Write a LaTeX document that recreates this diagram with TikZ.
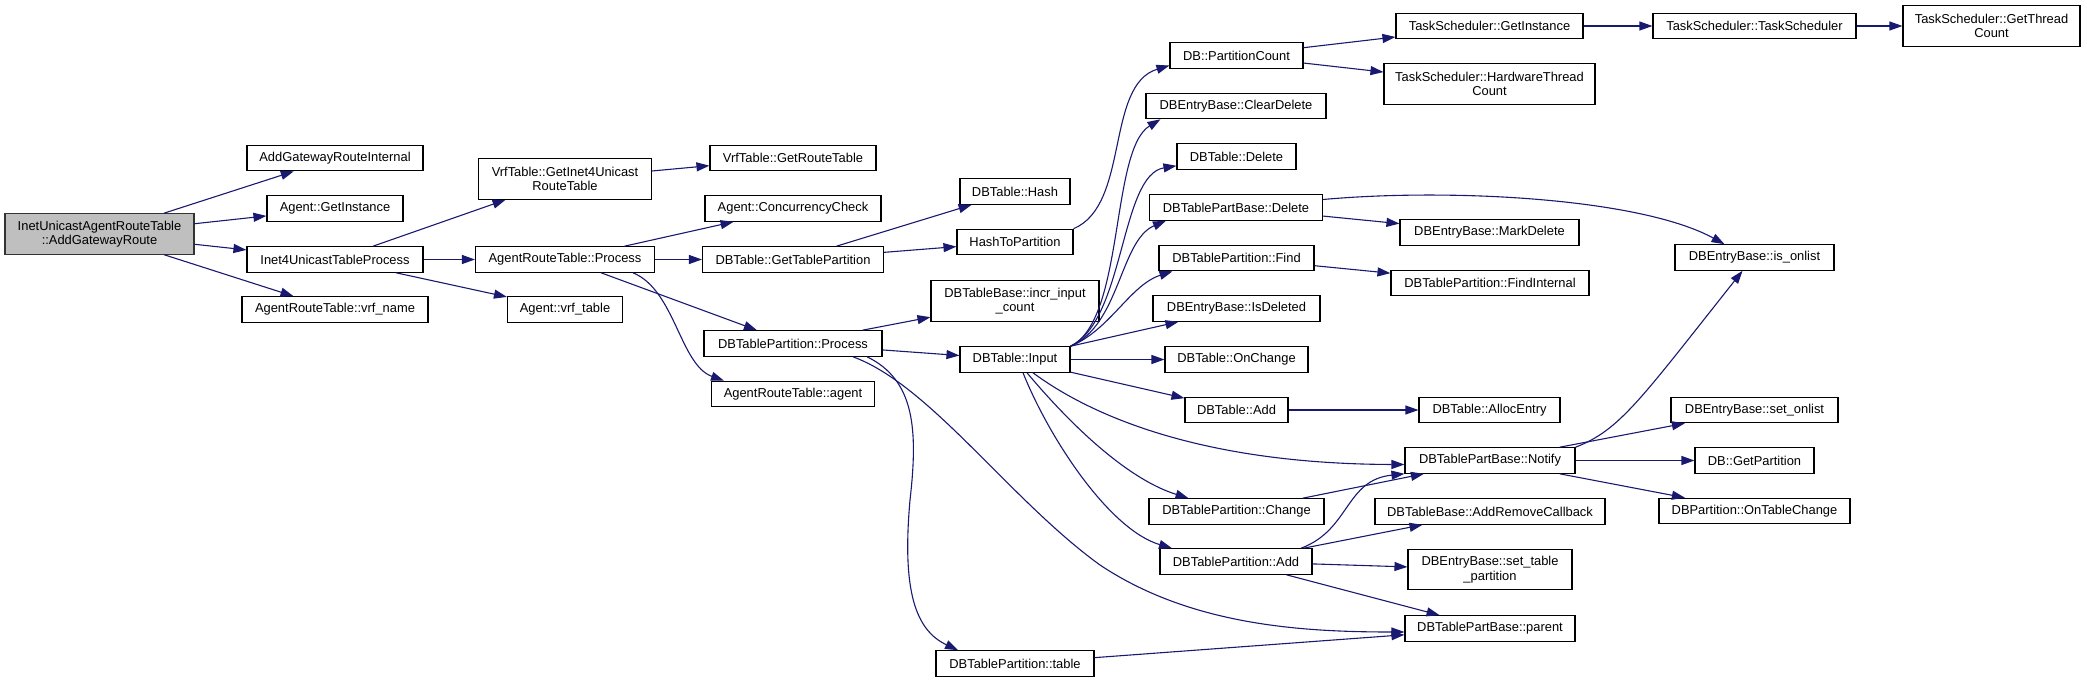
\documentclass[tikz,border=0pt]{standalone}
\usepackage{fontspec}
\setmainfont{Liberation Sans}
\usepackage{xcolor}
\usetikzlibrary{arrows.meta}

\definecolor{edgeblue}{HTML}{191970}
\definecolor{rootgray}{HTML}{BFBFBF}

\begin{document}
\begin{tikzpicture}[x=1pt, y=-1pt,
        fn/.style={draw, line width=1.1pt, minimum height=25.5pt, inner sep=0pt,
        align=center, font=\fontsize{12.9}{14.5}\selectfont},
        tall/.style={fn, minimum height=40.5pt},
        root/.style={tall, fill=rootgray, draw=black!80},
        call/.style={draw=edgeblue, line width=1.1pt, -{Triangle[length=13pt, width=9pt]}}
      ]
      \useasboundingbox (0,0) rectangle (2087,682);

      \node[root, minimum width=189pt] (main) at (99.5, 234) {InetUnicastAgentRouteTable\\::AddGatewayRoute};
      \node[fn, minimum width=176pt] (addgwint)  at (335, 158)   {AddGatewayRouteInternal};
      \node[fn, minimum width=136pt] (agentinst) at (335, 208.5) {Agent::GetInstance};
      \node[fn, minimum width=176pt] (inet4proc) at (335, 259.5) {Inet4UnicastTableProcess};
      \node[fn, minimum width=186pt] (vrfname)   at (335, 309.5) {AgentRouteTable::vrf\_name};

      \node[tall, minimum width=173pt] (getinet4) at (565, 179) {VrfTable::GetInet4Unicast\\RouteTable};
      \node[fn, minimum width=179pt] (arprocess)  at (565, 259.5) {AgentRouteTable::Process};
      \node[fn, minimum width=115pt] (vrftable)   at (565, 309.5) {Agent::vrf\_table};

      \node[fn, minimum width=166pt] (getroutetable) at (793, 158)   {VrfTable::GetRouteTable};
      \node[fn, minimum width=176pt] (concheck)      at (793, 208.5) {Agent::ConcurrencyCheck};
      \node[fn, minimum width=181pt] (gettablepart)  at (793, 259.5) {DBTable::GetTablePartition};
      \node[fn, minimum width=178pt] (dbtpprocess)   at (793, 343.5) {DBTablePartition::Process};
      \node[fn, minimum width=163pt] (aragent)       at (793, 394)   {AgentRouteTable::agent};

      \node[fn, minimum width=110pt] (dbhash)     at (1015, 191.5) {DBTable::Hash};
      \node[fn, minimum width=116pt] (hashtopart) at (1015, 242)   {HashToPartition};
      \node[tall, minimum width=168pt] (incrinput) at (1015, 301)  {DBTableBase::incr\_input\\\_count};
      \node[fn, minimum width=110pt] (dbinput)    at (1015, 359.5) {DBTable::Input};
      \node[fn, minimum width=158pt] (dbtptable)  at (1015, 663.5) {DBTablePartition::table};

      \node[fn, minimum width=133pt] (partcount)  at (1236.5, 55.5)  {DB::PartitionCount};
      \node[fn, minimum width=180pt] (cleardel)   at (1236, 106)     {DBEntryBase::ClearDelete};
      \node[fn, minimum width=119pt] (dbdelete)   at (1236.5, 156.5) {DBTable::Delete};
      \node[fn, minimum width=173pt] (tpbdelete)  at (1236, 207.5)   {DBTablePartBase::Delete};
      \node[fn, minimum width=155pt] (dbtpfind)   at (1236.5, 258)   {DBTablePartition::Find};
      \node[fn, minimum width=167pt] (isdeleted)  at (1236.5, 308.5) {DBEntryBase::IsDeleted};
      \node[fn, minimum width=143pt] (onchange)   at (1236.5, 359.5) {DBTable::OnChange};
      \node[fn, minimum width=103pt] (dbadd)      at (1236.5, 410)   {DBTable::Add};
      \node[fn, minimum width=175pt] (dbtpchange) at (1236.5, 511.5) {DBTablePartition::Change};
      \node[fn, minimum width=152pt] (dbtpadd)    at (1236, 561.5)   {DBTablePartition::Add};

      \node[fn, minimum width=187pt] (tsgetinst)  at (1489.5, 26)    {TaskScheduler::GetInstance};
      \node[tall, minimum width=211pt] (tshwcount) at (1489.5, 84)   {TaskScheduler::HardwareThread\\Count};
      \node[fn, minimum width=179pt] (markdel)    at (1489.5, 232.5) {DBEntryBase::MarkDelete};
      \node[fn, minimum width=198pt] (findint)    at (1490, 283)     {DBTablePartition::FindInternal};
      \node[fn, minimum width=141pt] (allocentry) at (1489.5, 410)   {DBTable::AllocEntry};
      \node[fn, minimum width=170pt] (notify)     at (1490, 460.5)   {DBTablePartBase::Notify};
      \node[fn, minimum width=230pt] (addremcb)   at (1490, 511.5)   {DBTableBase::AddRemoveCallback};
      \node[tall, minimum width=164pt] (settablepart) at (1490, 569.5) {DBEntryBase::set\_table\\\_partition};
      \node[fn, minimum width=170pt] (tpbparent)  at (1490, 628.5)   {DBTablePartBase::parent};

      \node[fn, minimum width=203pt] (tssched)       at (1754.5, 26)    {TaskScheduler::TaskScheduler};
      \node[fn, minimum width=159pt] (isonlist)      at (1754.5, 257.5) {DBEntryBase::is\_onlist};
      \node[fn, minimum width=167pt] (setonlist)     at (1754.5, 410)   {DBEntryBase::set\_onlist};
      \node[fn, minimum width=119pt] (getpartition)  at (1754.5, 460.5) {DB::GetPartition};
      \node[fn, minimum width=191pt] (ontablechange) at (1754.5, 511)   {DBPartition::OnTableChange};
      \node[tall, minimum width=177pt] (tsgetthread) at (1991.5, 26)    {TaskScheduler::GetThread\\Count};

      \draw[call] (main) -- (addgwint);
      \draw[call] (main) -- (agentinst);
      \draw[call] (main) -- (inet4proc);
      \draw[call] (main) -- (vrfname);
      \draw[call] (inet4proc) -- (getinet4);
      \draw[call] (inet4proc) -- (arprocess);
      \draw[call] (inet4proc) -- (vrftable);
      \draw[call] (getinet4) -- (getroutetable);
      \draw[call] (arprocess) -- (concheck);
      \draw[call] (arprocess) -- (gettablepart);
      \draw[call] (arprocess) -- (dbtpprocess);
      \draw[call] ([xshift=68pt]arprocess.south) .. controls (675,290) and (680,365) .. ([xshift=-69pt]aragent.north);
      \draw[call] (gettablepart) -- (dbhash);
      \draw[call] (gettablepart) -- (hashtopart);
      \draw[call] (hashtopart.north east) .. controls (1130,205) and (1105,85) .. ([yshift=-10pt]partcount.west);
      \draw[call] (dbtpprocess) -- (incrinput);
      \draw[call] (dbtpprocess) -- (dbinput);
      % long calls of DBTablePartition::Process, bent down past the Input column
      \draw[call] ([xshift=74pt]dbtpprocess.south) .. controls (915,380) and (918,430) .. (910,500)
        .. controls (902,590) and (915,630) .. ([xshift=-57pt]dbtptable.north);
      \draw[call] ([xshift=60pt]dbtpprocess.south) .. controls (930,385) and (1010,500) .. (1100,565)
        .. controls (1190,625) and (1300,632) .. ([yshift=-3.5pt]tpbparent.west);

      % fan out of DBTable::Input
      \draw[call] (dbinput.north east) .. controls (1125,320) and (1110,150) .. ([xshift=15pt]cleardel.south west);
      \draw[call] (dbinput.north east) .. controls (1125,320) and (1120,175) .. ([yshift=4pt]dbdelete.south west);
      \draw[call] (dbinput.north east) .. controls (1120,325) and (1120,240) .. ([xshift=17pt]tpbdelete.south west);
      \draw[call] (dbinput.north east) .. controls (1110,330) and (1130,285) .. ([xshift=14pt]dbtpfind.south west);
      \draw[call] (dbinput.north east) -- ([xshift=26pt]isdeleted.south west);
      \draw[call] (dbinput) -- (onchange);
      \draw[call] (dbinput) -- (dbadd);
      \draw[call] ([xshift=18pt]dbinput.south) .. controls (1090,415) and (1200,464) .. ([yshift=-4pt]notify.west);
      \draw[call] ([xshift=12pt]dbinput.south) .. controls (1075,430) and (1130,480) .. ([xshift=-48pt]dbtpchange.north);
      \draw[call] ([xshift=8pt]dbinput.south) .. controls (1050,440) and (1110,530) .. ([xshift=-64pt]dbtpadd.north);

      \draw[call] (partcount) -- (tsgetinst);
      \draw[call] (partcount) -- (tshwcount);
      \draw[call] (tsgetinst) -- (tssched);
      \draw[call] (tssched) -- (tsgetthread);
      \draw[call] (tpbdelete) -- (markdel);
      \draw[call] ([yshift=8pt]tpbdelete.east) .. controls (1450,188) and (1640,198) .. ([xshift=-30pt]isonlist.north);
      \draw[call] (dbtpfind) -- (findint);
      \draw[call] (dbadd) -- (allocentry);
      \draw[call] (notify.north east) .. controls (1620,430) and (1640,400) .. ([xshift=-12pt]isonlist.south);
      \draw[call] (notify) -- (setonlist);
      \draw[call] (notify) -- (getpartition);
      \draw[call] (notify) -- (ontablechange);
      \draw[call] (dbtpchange) -- (notify);
      \draw[call] ([xshift=65pt]dbtpadd.north) .. controls (1350,530) and (1345,480) .. (notify.south west);
      \draw[call] (dbtpadd) -- (addremcb);
      \draw[call] (dbtpadd) -- (settablepart);
      \draw[call] (dbtpadd) -- (tpbparent);
      \draw[call] (dbtptable) -- (tpbparent);
    \end{tikzpicture}
\end{document}
